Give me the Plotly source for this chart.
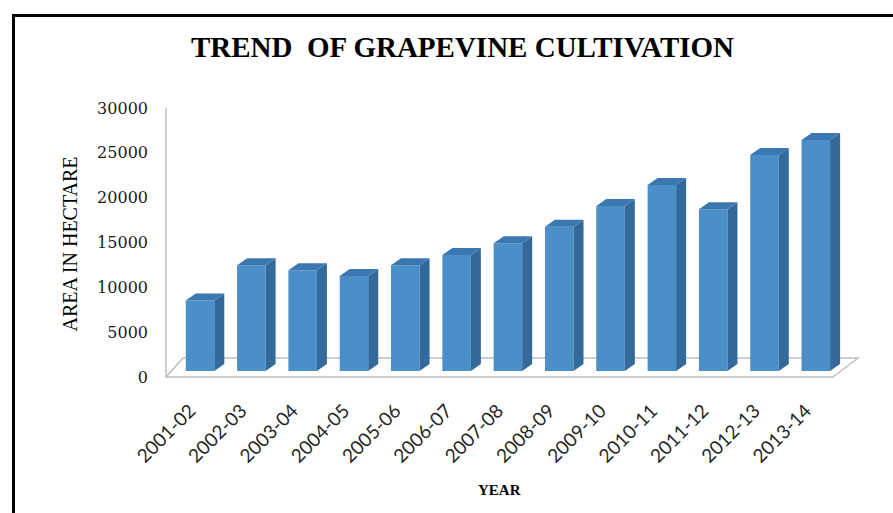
import plotly.graph_objects as go

# ---- data ----
years = ["2001-02", "2002-03", "2003-04", "2004-05", "2005-06", "2006-07", "2007-08",
         "2008-09", "2009-10", "2010-11", "2011-12", "2012-13", "2013-14"]
area = [7850, 11800, 11250, 10600, 11800, 12950, 14250, 16100, 18400, 20750, 18050, 24100, 25750]
y_tick_vals = [0, 5000, 10000, 15000, 20000, 25000, 30000]

# ---- layout geometry (pixels) ----
W, H = 893, 513
L, R, T, B = 160, 31, 108, 132
plot_w = W - L - R
plot_h = H - T - B
y_zero_px = 377                      # pixel row of value 0 (front floor edge)
upp = 30000 / (y_zero_px - T)        # value units per pixel
y_min = -(H - B - y_zero_px) * upp
x_range = [-0.78, 12.9]
xpp = (x_range[1] - x_range[0]) / plot_w  # x units per pixel

bar_lift = 6 * upp                   # bars stand slightly behind the front edge
half = 0.278
dx = 10 * xpp
dy = 7 * upp

FRONT = "#4A8FC8"
SIDE = "#33699B"
TOP = "#3B78B1"
GRID = "#BFBFBF"


def px_x(p):
    return (p - L) / plot_w


def px_y(q):
    return (H - B - q) / plot_h


idx = list(range(len(years)))

fig = go.Figure()

# front faces
fig.add_trace(go.Bar(x=idx, y=area, width=2 * half, marker=dict(color=FRONT, line=dict(width=0)),
                     yaxis="y2", hoverinfo="x+y", showlegend=False))

# side faces and top faces computed from the data
sx, sy, tx, ty = [], [], [], []
for i, v in zip(idx, area):
    sx += [i + half, i + half, i + half + dx, i + half + dx, i + half, None]
    sy += [0, v, v + dy, dy, 0, None]
    tx += [i - half, i + half, i + half + dx, i - half + dx, i - half, None]
    ty += [v, v, v + dy, v + dy, v, None]
fig.add_trace(go.Scatter(x=sx, y=sy, fill="toself", fillcolor=SIDE, mode="lines",
                         line=dict(width=0, color=SIDE), yaxis="y2", hoverinfo="skip", showlegend=False))
fig.add_trace(go.Scatter(x=tx, y=ty, fill="toself", fillcolor=TOP, mode="lines",
                         line=dict(width=0, color=TOP), yaxis="y2", hoverinfo="skip", showlegend=False))

shapes = []
# floor
fl = -0.663
fr = x_range[0] + (833 - L) * xpp
bl = x_range[0] + (183 - L) * xpp
br = x_range[0] + (858 - L) * xpp
fd = 19 * upp
shapes.append(dict(type="path", xref="x", yref="y",
                   path=f"M {fl},0 L {fr},0 L {br},{fd} L {bl},{fd} Z",
                   line=dict(color=GRID, width=1.5), fillcolor="rgba(0,0,0,0)", layer="below"))
# vertical axis line
shapes.append(dict(type="line", xref="x", yref="y", x0=fl, x1=fl, y0=0, y1=30000,
                   line=dict(color=GRID, width=1.5), layer="below"))
# black frame (top & left)
shapes.append(dict(type="line", xref="paper", yref="paper", x0=px_x(12), x1=px_x(W + 5),
                   y0=px_y(15.5), y1=px_y(15.5), line=dict(color="black", width=3)))
shapes.append(dict(type="line", xref="paper", yref="paper", x0=px_x(13.5), x1=px_x(13.5),
                   y0=px_y(14), y1=px_y(H + 5), line=dict(color="black", width=3)))

fig.update_layout(
    width=W, height=H,
    margin=dict(l=L, r=R, t=T, b=B),
    paper_bgcolor="white", plot_bgcolor="white",
    showlegend=False,
    title=dict(text="TREND  OF GRAPEVINE CULTIVATION", x=462.5 / W, xref="container",
               xanchor="center", y=1 - 47 / H, yref="container", yanchor="middle",
               font=dict(family="Liberation Serif", size=29, color="black", weight="bold")),
    xaxis=dict(range=x_range, tickmode="array", tickvals=idx, ticktext=years, tickangle=-45,
               showgrid=False, zeroline=False, showline=False, ticks="",
               ticklabelstandoff=14, ticklabelshift=-10,
               tickfont=dict(family="Lato", size=19, color="#262626")),
    yaxis=dict(range=[y_min, 30000], tickmode="array", tickvals=y_tick_vals,
               ticktext=[str(v) for v in y_tick_vals],
               showgrid=False, zeroline=False, showline=False, ticks="",
               ticklabelstandoff=11,
               tickfont=dict(family="DejaVu Serif", size=16, color="#1a1a1a")),
    yaxis2=dict(range=[y_min - bar_lift, 30000 - bar_lift], overlaying="y", visible=False),
    shapes=shapes,
    annotations=[
        dict(text="AREA IN HECTARE", xref="paper", yref="paper", x=px_x(69), y=px_y(244.5),
             textangle=-90, showarrow=False, xanchor="center", yanchor="middle",
             font=dict(family="Liberation Serif", size=20, color="black")),
        dict(text="<b>YEAR</b>", xref="paper", yref="paper", x=px_x(499.5), y=px_y(490),
             showarrow=False, xanchor="center", yanchor="middle",
             font=dict(family="Liberation Serif", size=15, color="black")),
    ],
)

fig.write_html("out.html")
